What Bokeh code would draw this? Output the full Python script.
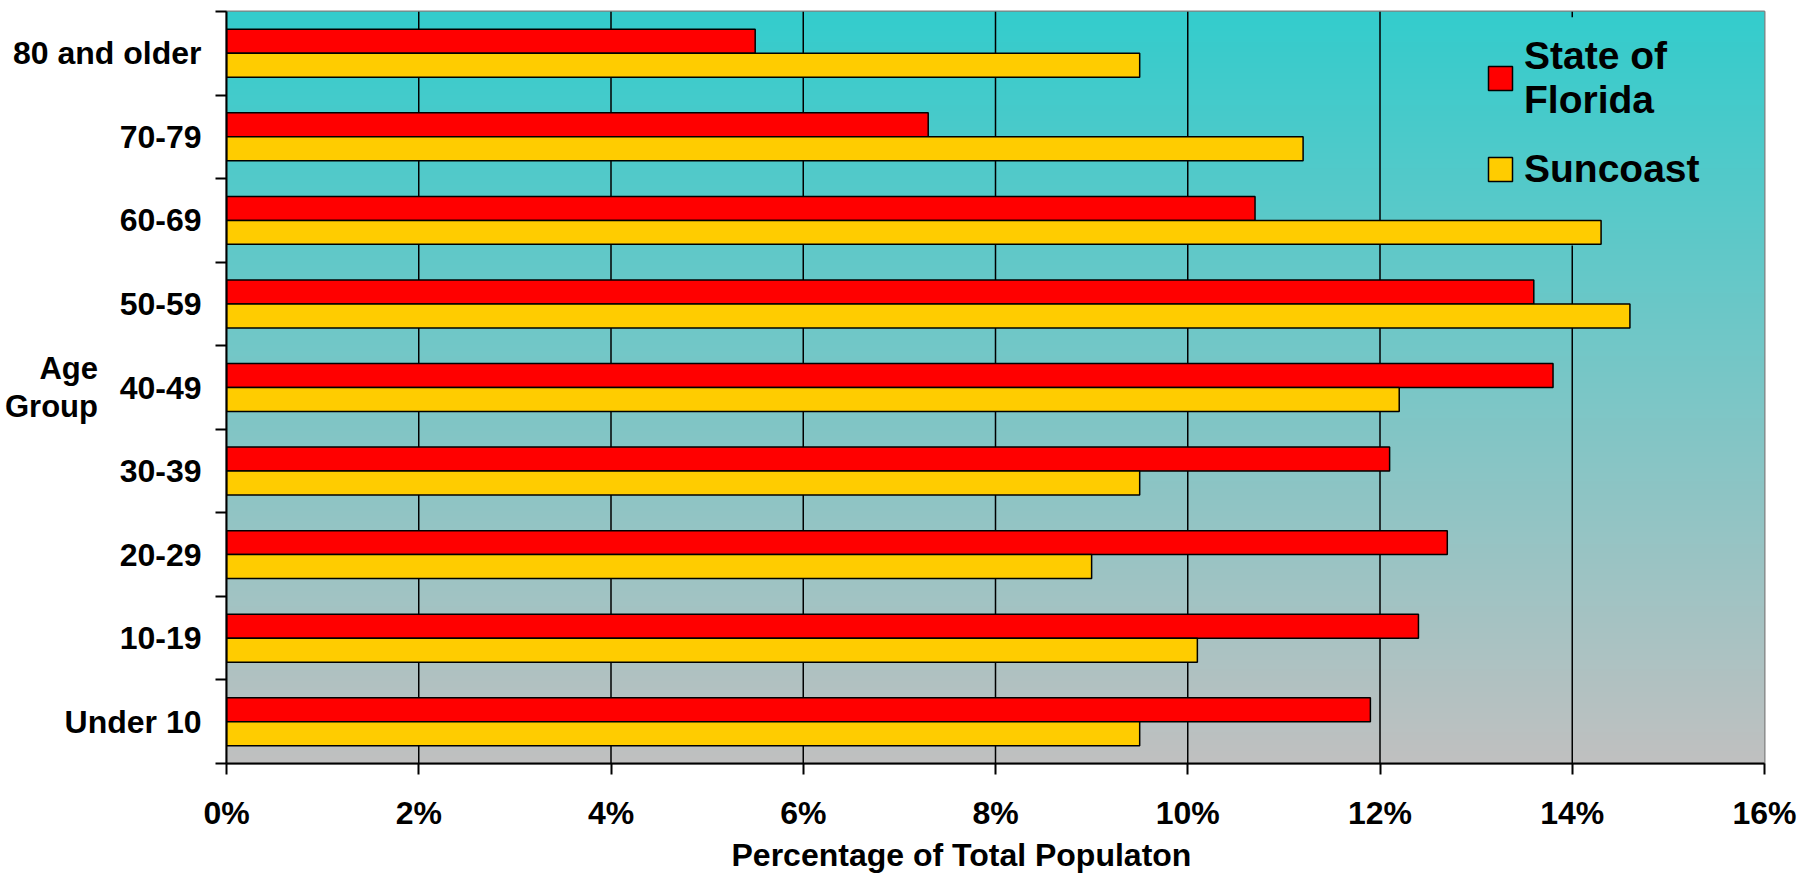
import numpy as np
from bokeh.plotting import figure
from bokeh.models import (Range1d, FixedTicker, PrintfTickFormatter, Title,
                          Legend, LegendItem)
from bokeh.embed import file_html
from bokeh.resources import INLINE

# ---------------- data ----------------
age_groups = ["Under 10", "10-19", "20-29", "30-39", "40-49",
              "50-59", "60-69", "70-79", "80 and older"]
florida = [11.9, 12.4, 12.7, 12.1, 13.8, 13.6, 10.7, 7.3, 5.5]
suncoast = [9.5, 10.1, 9.0, 9.5, 12.2, 14.6, 14.3, 11.2, 9.5]
series_labels = ["State of\nFlorida", "Suncoast"]
x_ticks = [0, 2, 4, 6, 8, 10, 12, 14, 16]
x_title = "Percentage of Total Populaton"
y_title = "Age\nGroup"

# ---------------- style ----------------
RED = "#FF0000"
YEL = "#FFCC00"
TOP = np.array([51, 204, 204])
BOT = np.array([192, 192, 192])
FONT = "Liberation Sans"
FW, FH = 1538, 752

n = len(age_groups)
centers = [i + 0.5 for i in range(n)]
bar_h = 0.287
off = bar_h / 2
xmax = x_ticks[-1]

p = figure(frame_width=FW, frame_height=FH, x_range=Range1d(0, xmax), y_range=Range1d(0, n),
           output_backend="svg", toolbar_location=None,
           min_border_left=226, min_border_right=40, min_border_top=11, min_border_bottom=60)
p.background_fill_color = "white"
p.border_fill_color = "white"
p.outline_line_color = "#808080"
p.outline_line_width = 2
p.xgrid.visible = False
p.ygrid.visible = False

# gradient background
rows = FH
img = np.empty((rows, 2), dtype=np.uint32)
view = img.view(dtype=np.uint8).reshape((rows, 2, 4))
frac = (np.arange(rows) + 0.5) / rows
for k in range(3):
    view[:, :, k] = np.round(BOT[k] + (TOP[k] - BOT[k]) * frac)[:, None]
view[:, :, 3] = 255
p.image_rgba(image=[img], x=0, y=0, dw=xmax, dh=n, level="image")

# vertical gridlines (hidden behind legend box for 14%)
legend_bottom = 6.2
legend_top = 8.93
gx0, gx1, gy0, gy1 = [], [], [], []
for t in x_ticks[1:-1]:
    if t >= 13:
        gx0 += [t, t]; gx1 += [t, t]; gy0 += [0, legend_top]; gy1 += [legend_bottom, n]
    else:
        gx0.append(t); gx1.append(t); gy0.append(0); gy1.append(n)
p.segment(x0=gx0, y0=gy0, x1=gx1, y1=gy1, line_color="black", line_width=1.5)

# bars
r1 = p.hbar(y=[c + off for c in centers], left=0, right=florida, height=bar_h,
            fill_color=RED, line_color="black", line_width=1.5)
r2 = p.hbar(y=[c - off for c in centers], left=0, right=suncoast, height=bar_h,
            fill_color=YEL, line_color="black", line_width=1.5)

# x axis
xa = p.xaxis[0]
xa.ticker = FixedTicker(ticks=x_ticks)
xa.formatter = PrintfTickFormatter(format="%d%%")
xa.major_tick_out = 11
xa.major_tick_in = 0
xa.minor_tick_line_color = None
xa.axis_line_color = "black"
xa.axis_line_width = 2
xa.major_tick_line_width = 2
xa.major_label_text_font = FONT
xa.major_label_text_font_style = "bold"
xa.major_label_text_font_size = "32px"
xa.major_label_text_color = "black"
xa.major_label_standoff = 20

# y axis
ya = p.yaxis[0]
ya.ticker = FixedTicker(ticks=centers, minor_ticks=list(range(n + 1)))
ya.major_label_overrides = {c: lab for c, lab in zip(centers, age_groups)}
ya.major_tick_out = 0
ya.major_tick_in = 0
ya.major_tick_line_color = None
ya.minor_tick_out = 11
ya.minor_tick_in = 0
ya.minor_tick_line_color = "black"
ya.minor_tick_line_width = 2
ya.axis_line_color = "black"
ya.axis_line_width = 2
ya.major_label_text_font = FONT
ya.major_label_text_font_style = "bold"
ya.major_label_text_font_size = "32px"
ya.major_label_text_color = "black"
ya.major_label_standoff = 14
ya.axis_label = y_title
ya.axis_label_orientation = "horizontal"
ya.axis_label_standoff = -88
ya.axis_label_text_font = FONT
ya.axis_label_text_font_style = "bold"
ya.axis_label_text_font_size = "31px"
ya.axis_label_text_line_height = 1.1
ya.axis_label_text_color = "black"

# x-axis title, placed below the axis
p.add_layout(Title(text=x_title, align="left", offset=505, standoff=2, text_font=FONT,
                   text_font_style="bold", text_font_size="32px", text_color="black"),
             "below")

# legend
legend = Legend(items=[LegendItem(label=series_labels[0], renderers=[r1]),
                       LegendItem(label=series_labels[1], renderers=[r2])],
                location=(1259, 572), glyph_width=30, glyph_height=30, label_standoff=9,
                spacing=25, padding=0, margin=0, border_line_color=None,
                background_fill_alpha=0, label_text_font=FONT,
                label_text_font_style="bold", label_text_font_size="39px",
                label_text_line_height=1.15, label_text_color="black")
p.add_layout(legend)

open("out.html", "w").write(file_html(p, INLINE))
